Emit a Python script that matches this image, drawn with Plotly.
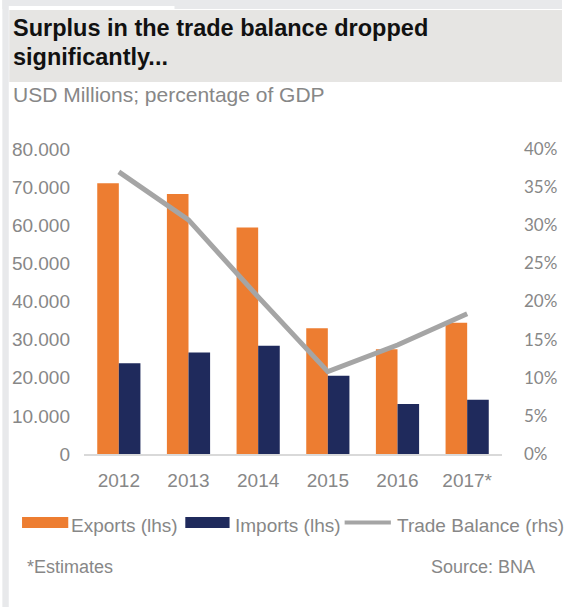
import plotly.graph_objects as go

# ---- data ----
years = ["2012", "2013", "2014", "2015", "2016", "2017*"]
exports = [71000, 68200, 59400, 33000, 27500, 34400]
imports = [23800, 26600, 28400, 20500, 13100, 14200]
trade_balance = [37.0, 30.7, 20.6, 10.8, 14.3, 18.4]

left_tickvals = [0, 10000, 20000, 30000, 40000, 50000, 60000, 70000, 80000]
left_ticktext = ["0", "10.000", "20.000", "30.000", "40.000", "50.000", "60.000", "70.000", "80.000"]
right_tickvals = [0, 5, 10, 15, 20, 25, 30, 35, 40]
right_ticktext = ["0%", "5%", "10%", "15%", "20%", "25%", "30%", "35%", "40%"]

ORANGE = "#ED7D31"
NAVY = "#1F2A5C"
LGRAY = "#A5A5A5"
TXT = "#878787"

W, H = 569, 607
L, R = 83, 508
T, B = 149, 454


def px(x):
    return (x - L) / (R - L)


def py(y):
    return (B - y) / (B - T)


fig = go.Figure()
fig.add_trace(go.Bar(x=years, y=exports, name="Exports (lhs)", marker_color=ORANGE,
                     marker_line_width=0, yaxis="y"))
fig.add_trace(go.Bar(x=years, y=imports, name="Imports (lhs)", marker_color=NAVY,
                     marker_line_width=0, yaxis="y"))
fig.add_trace(go.Scatter(x=years, y=trade_balance, name="Trade Balance (rhs)", mode="lines",
                         line=dict(color=LGRAY, width=5), yaxis="y2"))

shapes = [
    # left grey strip and top strip
    dict(type="rect", xref="paper", yref="paper", x0=px(0), x1=px(6.5), y0=py(H), y1=py(0),
         fillcolor="#E8E9EB", line_width=0, layer="below"),
    dict(type="rect", xref="paper", yref="paper", x0=px(0), x1=px(W), y0=py(9), y1=py(0),
         fillcolor="#E8E9EB", line_width=0, layer="below"),
    dict(type="rect", xref="paper", yref="paper", x0=px(6.5), x1=px(175), y0=py(9), y1=py(6),
         fillcolor="#FFFFFF", line_width=0, layer="below"),
    # title band
    dict(type="rect", xref="paper", yref="paper", x0=px(7), x1=px(W), y0=py(82), y1=py(10),
         fillcolor="#E6E5E3", line_width=0, layer="below"),
    # legend keys
    dict(type="rect", xref="paper", yref="paper", x0=px(20), x1=px(67), y0=py(528), y1=py(517),
         fillcolor=ORANGE, line_width=0),
    dict(type="rect", xref="paper", yref="paper", x0=px(186), x1=px(231), y0=py(528), y1=py(517),
         fillcolor=NAVY, line_width=0),
    dict(type="line", xref="paper", yref="paper", x0=px(348), x1=px(395), y0=py(522.5), y1=py(522.5),
         line=dict(color=LGRAY, width=4)),
]

def ann(text, x, y, size, color=TXT, xanchor="left", bold=False, family="Liberation Sans, Arial, sans-serif"):
    return dict(text=f"<b>{text}</b>" if bold else text, xref="paper", yref="paper",
                x=px(x), y=py(y), xanchor=xanchor, yanchor="middle", showarrow=False,
                font=dict(size=size, color=color, family=family))

annotations = [
    ann("Surplus in the trade balance dropped", 9, 27.5, 23.5, color="#111111", bold=True),
    ann("significantly...", 9, 57, 23.5, color="#111111", bold=True),
    ann("USD Millions; percentage of GDP", 9, 94.5, 21),
    ann("Exports (lhs)", 68, 525, 19),
    ann("Imports (lhs)", 235, 525, 19),
    ann("Trade Balance (rhs)", 399, 525, 19),
    ann("*Estimates", 23, 567, 18),
    ann("Source: BNA", 544, 567, 18, xanchor="right"),
]

fig.update_layout(
    width=W, height=H,
    margin=dict(l=L, r=W - R, t=T, b=H - B, pad=0),
    paper_bgcolor="white", plot_bgcolor="white",
    barmode="group", bargap=0.38, bargroupgap=0,
    showlegend=False,
    shapes=shapes, annotations=annotations,
    font=dict(family="Liberation Sans, Arial, sans-serif", color=TXT),
    xaxis=dict(showgrid=False, showline=True, linecolor="#D9D9D9", linewidth=1.5,
               ticks="", tickfont=dict(size=19, color=TXT), ticklabelstandoff=8,
               zeroline=False),
    yaxis=dict(range=[0, 80000], tickvals=left_tickvals, ticktext=left_ticktext,
               showgrid=False, zeroline=False, showline=False, ticks="",
               tickfont=dict(size=19, color=TXT), ticklabelstandoff=13),
    yaxis2=dict(range=[0, 40], tickvals=right_tickvals, ticktext=right_ticktext,
                overlaying="y", side="right", showgrid=False, zeroline=False,
                showline=False, ticks="", ticklabelstandoff=21,
                tickfont=dict(size=17, color=TXT, family="Lato, Carlito, sans-serif")),
)

fig.write_html(
    "out.html",
    config={"displayModeBar": False},
    post_script="document.body.style.margin='0';document.body.style.padding='0';"
                "document.body.style.overflow='hidden';"
                "document.documentElement.style.overflow='hidden';",
)
